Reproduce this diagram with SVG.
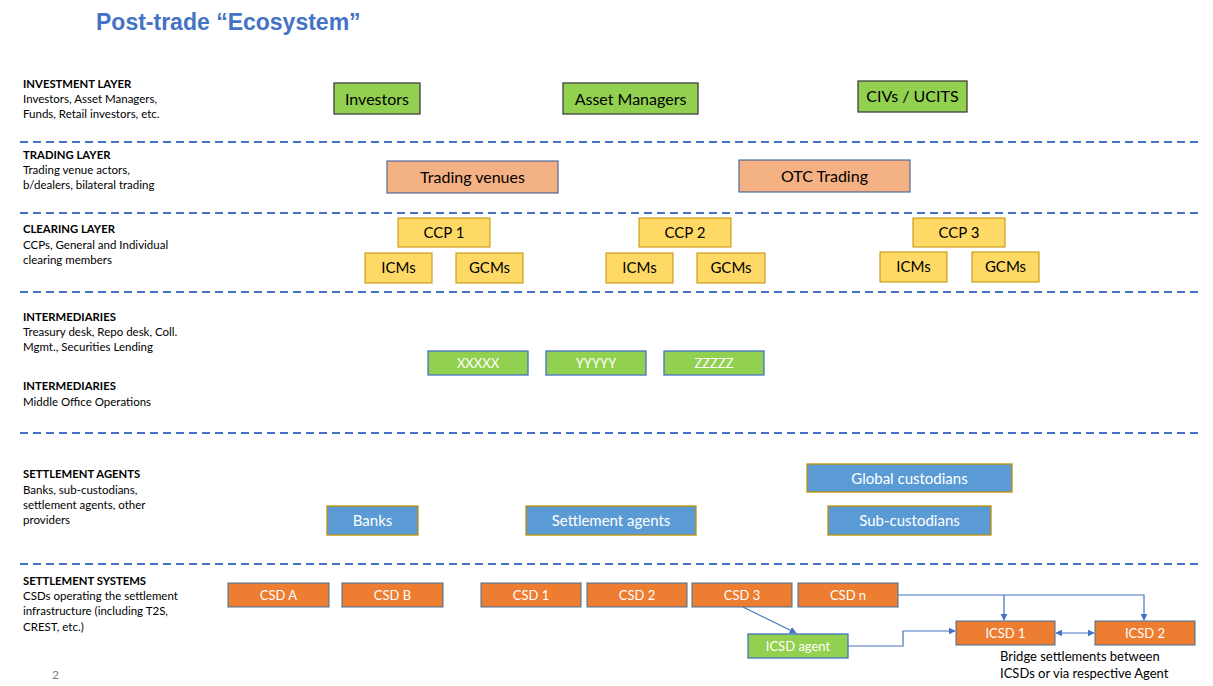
<svg xmlns="http://www.w3.org/2000/svg" width="1213" height="686" viewBox="0 0 1213 686">
<style>
text{font-family:Lato,"Liberation Sans",sans-serif}
.title{font-family:"Liberation Sans",Arial,sans-serif;font-weight:bold;font-size:23px;fill:#4472C4}
.h{font-weight:bold;font-size:11.3px;fill:#000}
.d{font-size:11.5px;fill:#000}
.sep{stroke:#4472C4;stroke-width:2;stroke-dasharray:8 5;fill:none}
.inv{fill:#92D050;stroke:#404040;stroke-width:1.3}
.trd{fill:#F4B183;stroke:#2F5597;stroke-width:1}
.clr{fill:#FFD966;stroke:#BF9000;stroke-width:1}
.mid{fill:#92D050;stroke:#4472C4;stroke-width:1.3}
.agt{fill:#5B9BD5;stroke:#BF9000;stroke-width:1.3}
.csd{fill:#ED7D31;stroke:#41719C;stroke-width:1}
.t{text-anchor:middle;dominant-baseline:central}
.tb{font-size:15px;fill:#000}
.tw{fill:#fff}
.conn{stroke:#4472C4;stroke-width:1.2;fill:none}
</style>
<defs>
<marker id="ah" viewBox="0 0 10 10" refX="9" refY="5" markerWidth="7" markerHeight="7" orient="auto-start-reverse" markerUnits="userSpaceOnUse">
<path d="M0,0 L10,5 L0,10 z" fill="#4472C4"/>
</marker>
</defs>
<rect width="1213" height="686" fill="#fff"/>
<text class="title" x="96" y="30">Post-trade “Ecosystem”</text>
<g id="separators">
<line class="sep" x1="20" y1="142" x2="1200" y2="142"/>
<line class="sep" x1="20" y1="213" x2="1200" y2="213"/>
<line class="sep" x1="20" y1="292" x2="1200" y2="292"/>
<line class="sep" x1="20" y1="433" x2="1200" y2="433"/>
<line class="sep" x1="20" y1="564" x2="1200" y2="564"/>
</g>
<g id="layer-labels">
<text class="h" x="23" y="88">INVESTMENT LAYER</text>
<text class="d" x="23" y="103">Investors, Asset Managers,</text>
<text class="d" x="23" y="118">Funds, Retail investors, etc.</text>
<text class="h" x="23" y="159">TRADING LAYER</text>
<text class="d" x="23" y="174">Trading venue actors,</text>
<text class="d" x="23" y="189">b/dealers, bilateral trading</text>
<text class="h" x="23" y="233">CLEARING LAYER</text>
<text class="d" x="23" y="249">CCPs, General and Individual</text>
<text class="d" x="23" y="264">clearing members</text>
<text class="h" x="23" y="321">INTERMEDIARIES</text>
<text class="d" x="23" y="336">Treasury desk, Repo desk, Coll.</text>
<text class="d" x="23" y="351">Mgmt., Securities Lending</text>
<text class="h" x="23" y="390">INTERMEDIARIES</text>
<text class="d" x="23" y="406">Middle Office Operations</text>
<text class="h" x="23" y="478">SETTLEMENT AGENTS</text>
<text class="d" x="23" y="494">Banks, sub-custodians,</text>
<text class="d" x="23" y="509">settlement agents, other</text>
<text class="d" x="23" y="524">providers</text>
<text class="h" x="23" y="585">SETTLEMENT SYSTEMS</text>
<text class="d" x="23" y="600">CSDs operating the settlement</text>
<text class="d" x="23" y="615">infrastructure (including T2S,</text>
<text class="d" x="23" y="631">CREST, etc.)</text>
<text x="52" y="679" style="font-size:12px;fill:#808080">2</text>
</g>
<g id="investors"><rect class="inv" x="334" y="83" width="86" height="31"/><text class="t tb" x="377" y="98" style="font-size:16px">Investors</text></g>
<g id="asset-managers"><rect class="inv" x="563" y="83" width="135" height="31"/><text class="t tb" x="630.5" y="98" style="font-size:16px">Asset Managers</text></g>
<g id="civs-ucits"><rect class="inv" x="858" y="81" width="109" height="31"/><text class="t tb" x="912.5" y="95" style="font-size:16px">CIVs / UCITS</text></g>
<g id="trading-venues"><rect class="trd" x="387" y="161" width="171" height="32"/><text class="t tb" x="472.5" y="176" style="font-size:16px">Trading venues</text></g>
<g id="otc-trading"><rect class="trd" x="739" y="160" width="171" height="32"/><text class="t tb" x="824.5" y="175" style="font-size:16px">OTC Trading</text></g>
<g id="ccp1"><rect class="clr" x="398" y="218" width="92" height="29"/><text class="t tb" x="444" y="232">CCP 1</text></g>
<g id="icms1"><rect class="clr" x="365" y="253" width="67" height="30"/><text class="t tb" x="398.5" y="267">ICMs</text></g>
<g id="gcms1"><rect class="clr" x="456" y="253" width="67" height="30"/><text class="t tb" x="489.5" y="267">GCMs</text></g>
<g id="ccp2"><rect class="clr" x="639" y="218" width="92" height="29"/><text class="t tb" x="685" y="232">CCP 2</text></g>
<g id="icms2"><rect class="clr" x="606" y="253" width="67" height="30"/><text class="t tb" x="639.5" y="267">ICMs</text></g>
<g id="gcms2"><rect class="clr" x="697" y="253" width="68" height="30"/><text class="t tb" x="731" y="267">GCMs</text></g>
<g id="ccp3"><rect class="clr" x="913" y="218" width="92" height="29"/><text class="t tb" x="959" y="232">CCP 3</text></g>
<g id="icms3"><rect class="clr" x="880" y="252" width="67" height="30"/><text class="t tb" x="913.5" y="266">ICMs</text></g>
<g id="gcms3"><rect class="clr" x="972" y="252" width="67" height="30"/><text class="t tb" x="1005.5" y="266">GCMs</text></g>
<g id="xxxxx"><rect class="mid" x="428" y="351" width="100" height="24"/><text class="t tw" x="478" y="362.5" style="font-size:13px">XXXXX</text></g>
<g id="yyyyy"><rect class="mid" x="546" y="351" width="100" height="24"/><text class="t tw" x="596" y="362.5" style="font-size:13px">YYYYY</text></g>
<g id="zzzzz"><rect class="mid" x="664" y="351" width="100" height="24"/><text class="t tw" x="714" y="362.5" style="font-size:13px">ZZZZZ</text></g>
<g id="global-custodians"><rect class="agt" x="807" y="464" width="205" height="28"/><text class="t tw" x="909.5" y="477.5" style="font-size:15px">Global custodians</text></g>
<g id="banks"><rect class="agt" x="327" y="506" width="91" height="29"/><text class="t tw" x="372.5" y="520" style="font-size:15px">Banks</text></g>
<g id="settlement-agents"><rect class="agt" x="526" y="506" width="170" height="29"/><text class="t tw" x="611" y="520" style="font-size:15px">Settlement agents</text></g>
<g id="sub-custodians"><rect class="agt" x="828" y="506" width="163" height="29"/><text class="t tw" x="909.5" y="520" style="font-size:15px">Sub-custodians</text></g>
<g id="csd-a"><rect class="csd" x="228" y="583" width="101" height="24"/><text class="t tw" x="278.5" y="594.5" style="font-size:13px">CSD A</text></g>
<g id="csd-b"><rect class="csd" x="342" y="583" width="101" height="24"/><text class="t tw" x="392.5" y="594.5" style="font-size:13px">CSD B</text></g>
<g id="csd-1"><rect class="csd" x="481" y="583" width="100" height="24"/><text class="t tw" x="531" y="594.5" style="font-size:13px">CSD 1</text></g>
<g id="csd-2"><rect class="csd" x="587" y="583" width="100" height="24"/><text class="t tw" x="637" y="594.5" style="font-size:13px">CSD 2</text></g>
<g id="csd-3"><rect class="csd" x="692" y="583" width="100" height="24"/><text class="t tw" x="742" y="594.5" style="font-size:13px">CSD 3</text></g>
<g id="csd-n"><rect class="csd" x="798" y="583" width="100" height="24"/><text class="t tw" x="848" y="594.5" style="font-size:13px">CSD n</text></g>
<g id="icsd-agent"><rect class="mid" x="748" y="634" width="100" height="24"/><text class="t tw" x="798" y="645.5" style="font-size:13px">ICSD agent</text></g>
<g id="icsd-1"><rect class="csd" x="956" y="621" width="99" height="24"/><text class="t tw" x="1005.5" y="632.5" style="font-size:13px">ICSD 1</text></g>
<g id="icsd-2"><rect class="csd" x="1095" y="621" width="100" height="24"/><text class="t tw" x="1145" y="632.5" style="font-size:13px">ICSD 2</text></g>
<g id="connectors">
<path class="conn" d="M898,595 H1144 V620" marker-end="url(#ah)"/>
<path class="conn" d="M1004,595 V620" marker-end="url(#ah)"/>
<path class="conn" d="M743,607 L796,633" marker-end="url(#ah)"/>
<path class="conn" d="M848,646 H903 V631 H955" marker-end="url(#ah)"/>
<path class="conn" d="M1056,633 H1094" marker-start="url(#ah)" marker-end="url(#ah)"/>
</g>
<g id="note">
<text x="1000" y="661" style="font-size:13px;fill:#000">Bridge settlements between</text>
<text x="1000" y="678" style="font-size:13px;fill:#000">ICSDs or via respective Agent</text>
</g>
</svg>
